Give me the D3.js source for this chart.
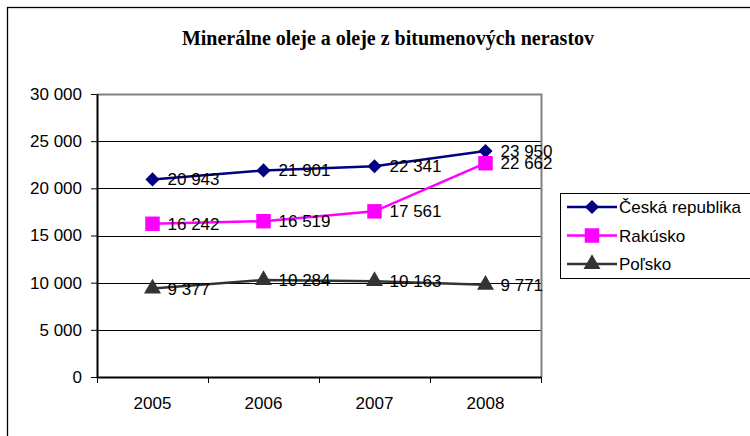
<!DOCTYPE html>
<html>
<head>
<meta charset="utf-8">
<script src="https://cdn.jsdelivr.net/npm/d3@7"></script>
<style>
  body { margin: 0; background: #fff; }
  svg { display: block; font-family: Arial, "Liberation Sans", sans-serif; }
</style>
</head>
<body>
<svg width="750" height="436"></svg>
<script>
var years = ["2005", "2006", "2007", "2008"];
var czValues = [20943, 21901, 22341, 23950];
var atValues = [16242, 16519, 17561, 22662];
var plValues = [9377, 10284, 10163, 9771];
var seriesNames = ["Česká republika", "Rakúsko", "Poľsko"];
var yTicks = [0, 5000, 10000, 15000, 20000, 25000, 30000];

var series = [
  { name: seriesNames[0], values: czValues, color: "#000080", symbol: d3.symbolSquare, size: 100, rot: 45 },
  { name: seriesNames[1], values: atValues, color: "#ff00ff", symbol: d3.symbolSquare, size: 210, rot: 0 },
  { name: seriesNames[2], values: plValues, color: "#333333", symbol: d3.symbolTriangle, size: 125, rot: 0 }
];

var svg = d3.select("svg"),
    plot = { left: 97, top: 94, right: 541, bottom: 377 },
    labelFont = "17px";

var fmt = function(v) { return d3.format(",")(v).replace(/,/g, " "); };

// outer chart border
svg.append("rect")
    .attr("x", 7.5).attr("y", 7.5)
    .attr("width", 760).attr("height", 440)
    .attr("fill", "none").attr("stroke", "#000").attr("stroke-width", 1.3);

svg.append("text")
    .attr("x", 388).attr("y", 45)
    .attr("text-anchor", "middle")
    .style("font-family", "'Liberation Serif', 'Times New Roman', serif")
    .style("font-weight", "bold")
    .style("font-size", "20px")
    .text("Minerálne oleje a oleje z bitumenových nerastov");

var x = d3.scaleBand().domain(years).range([plot.left, plot.right]);
var y = d3.scaleLinear().domain([0, 30000]).range([plot.bottom, plot.top]);

// gridlines
svg.append("g").selectAll("line")
  .data(yTicks.filter(function(d) { return d > 0 && d < 30000; }))
  .enter().append("line")
    .attr("x1", plot.left).attr("x2", plot.right)
    .attr("y1", function(d) { return Math.round(y(d)) + 0.5; })
    .attr("y2", function(d) { return Math.round(y(d)) + 0.5; })
    .attr("stroke", "#000").attr("stroke-width", 1);

// plot area border (top + right grey)
svg.append("path")
    .attr("d", "M" + plot.left + "," + (plot.top + 0.5) + "H" + (plot.right + 0.5) + "V" + plot.bottom)
    .attr("fill", "none").attr("stroke", "#808080").attr("stroke-width", 2);

// y axis
var yAxis = svg.append("g")
    .attr("transform", "translate(" + plot.left + ",0)")
    .call(d3.axisLeft(y).tickValues(yTicks).tickFormat(fmt).tickSize(6).tickSizeOuter(0));
yAxis.select(".domain").attr("stroke", "#000").attr("stroke-width", 2);
yAxis.selectAll("text").style("font-size", labelFont).style("font-family", "Arial, 'Liberation Sans', sans-serif").attr("x", -15).attr("fill", "#000");

// x axis
var xAxis = svg.append("g")
    .attr("transform", "translate(0," + plot.bottom + ")")
    .call(d3.axisBottom(x).tickSize(0));
xAxis.select(".domain").attr("stroke", "#000").attr("stroke-width", 2);
xAxis.selectAll("text").style("font-size", labelFont).style("font-family", "Arial, 'Liberation Sans', sans-serif").attr("dy", "0").attr("y", 32).attr("fill", "#000");
// band tick marks
xAxis.selectAll(".btick")
  .data(years.concat(["end"]))
  .enter().append("line")
    .attr("x1", function(d, i) { return Math.round(plot.left + i * x.bandwidth()) + 0.5; })
    .attr("x2", function(d, i) { return Math.round(plot.left + i * x.bandwidth()) + 0.5; })
    .attr("y1", 0).attr("y2", 6)
    .attr("stroke", "#000");

var cx = function(i) { return x(years[i]) + x.bandwidth() / 2; };
var line = d3.line().x(function(d, i) { return cx(i); }).y(function(d) { return y(d); });

var sg = svg.selectAll(".series").data(series).enter().append("g");

sg.append("path")
    .attr("d", function(d) { return line(d.values); })
    .attr("fill", "none")
    .attr("stroke", function(d) { return d.color; })
    .attr("stroke-width", 2.5);

sg.each(function(s) {
  var g = d3.select(this);
  g.selectAll("path.m").data(s.values).enter().append("path")
      .attr("class", "m")
      .attr("transform", function(d, i) { return "translate(" + cx(i) + "," + y(d) + ") rotate(" + s.rot + ")"; })
      .attr("d", d3.symbol().type(s.symbol).size(s.size))
      .attr("fill", s.color);
  g.selectAll("text").data(s.values).enter().append("text")
      .attr("x", function(d, i) { return cx(i) + 15; })
      .attr("y", function(d) { return y(d) + 6; })
      .style("font-size", labelFont)
      .attr("fill", "#000")
      .text(fmt);
});

// legend
var legend = svg.append("g");
legend.append("rect")
    .attr("x", 560.5).attr("y", 193.5)
    .attr("width", 200).attr("height", 85)
    .attr("fill", "#fff").attr("stroke", "#000");

var li = legend.selectAll(".li").data(series).enter().append("g")
    .attr("transform", function(d, i) { return "translate(0," + (207 + i * 28.5) + ")"; });
li.append("line")
    .attr("x1", 567).attr("x2", 617)
    .attr("stroke", function(d) { return d.color; })
    .attr("stroke-width", 2.5);
li.append("path")
    .attr("transform", function(d) { return "translate(592,0) rotate(" + d.rot + ")"; })
    .attr("d", function(d) { return d3.symbol().type(d.symbol).size(d.size)(); })
    .attr("fill", function(d) { return d.color; });
li.append("text")
    .attr("x", 619).attr("y", 6)
    .style("font-size", labelFont)
    .attr("fill", "#000")
    .text(function(d) { return d.name; });
</script>
</body>
</html>
